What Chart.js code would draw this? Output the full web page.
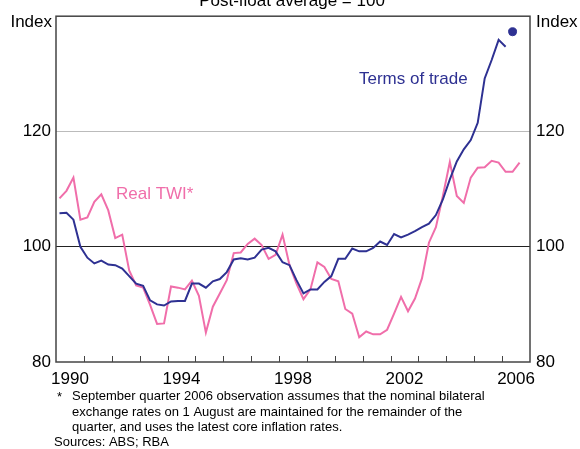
<!DOCTYPE html>
<html>
<head>
<meta charset="utf-8">
<script src="https://cdn.jsdelivr.net/npm/chart.js@4.4.1/dist/chart.umd.min.js"></script>
<style>
body { margin: 0; background: #fff; }
#wrap { width: 580px; height: 449px; position: relative; }
</style>
</head>
<body>
<div id="wrap"><canvas id="chart" width="580" height="449"></canvas></div>
<script>
// quarterly, starting March quarter 1990
const startYear = 1990;
const termsOfTrade = [
  105.8, 105.9, 104.7, 100.0, 98.1, 97.1, 97.6, 96.9,
  96.8, 96.2, 94.9, 93.6, 93.2, 90.7, 90.0, 89.8,
  90.5, 90.6, 90.6, 93.6, 93.6, 92.9, 94.0, 94.4,
  95.6, 97.8, 98.0, 97.8, 98.1, 99.5, 99.8, 99.2,
  97.3, 96.8, 94.2, 91.9, 92.6, 92.6, 93.9, 94.9,
  97.9, 97.9, 99.7, 99.2, 99.2, 99.8, 100.9, 100.3,
  102.2, 101.6, 102.1, 102.7, 103.4, 104.0, 105.5, 108.2,
  111.7, 114.8, 116.9, 118.5, 121.5, 129.2, 132.4, 135.9,
  134.7
];
const termsForecast = 137.3; // June quarter 2006
const realTWI = [
  108.4, 109.7, 112.0, 104.7, 105.1, 107.8, 109.1, 106.3,
  101.5, 102.1, 95.9, 93.3, 92.9, 89.9, 86.6, 86.7,
  93.1, 92.9, 92.6, 94.1, 91.5, 85.1, 89.6, 91.9,
  94.2, 98.9, 99.0, 100.5, 101.4, 100.3, 97.9, 98.6,
  102.1, 96.8, 93.6, 90.9, 92.6, 97.3, 96.5, 94.4,
  94.0, 89.2, 88.4, 84.3, 85.3, 84.8, 84.8, 85.6,
  88.4, 91.3, 88.8, 91.0, 94.5, 100.7, 103.4, 108.8,
  114.7, 108.8, 107.6, 112.0, 113.7, 113.8, 114.9, 114.6,
  113.0, 113.0, 114.6
];
const yTicks = [80, 100, 120];
const yearLabels = [1990, 1994, 1998, 2002, 2006];

const blue = '#2e3192';
const pink = '#f06eaa';
const font = 'Arial, "Liberation Sans", sans-serif';

function quarterX(i) { return startYear + (i + 0.5) / 4; }
const totPoints = termsOfTrade.map((v, i) => ({ x: quarterX(i), y: v }));
const twiPoints = realTWI.map((v, i) => ({ x: quarterX(i), y: v }));

const decorations = {
  id: 'decorations',
  afterDraw(chart) {
    const ctx = chart.ctx;
    const a = chart.chartArea;
    const xs = chart.scales.x;
    ctx.save();
    // year tick marks, pointing into the plot
    ctx.strokeStyle = '#444';
    ctx.lineWidth = 1;
    for (let yr = startYear + 1; yr < 2007; yr++) {
      const px = Math.round(xs.getPixelForValue(yr)) + 0.5;
      ctx.beginPath();
      ctx.moveTo(px, a.bottom);
      ctx.lineTo(px, a.bottom - 6);
      ctx.stroke();
    }
    // frame
    ctx.strokeStyle = '#444';
    ctx.lineWidth = 1.5;
    ctx.strokeRect(a.left, a.top, a.right - a.left, a.bottom - a.top);

    ctx.fillStyle = '#000';
    ctx.font = '17px ' + font;
    ctx.textBaseline = 'alphabetic';
    ctx.textAlign = 'center';
    ctx.fillText('Post-float average = 100', 292, 6);

    ctx.textBaseline = 'middle';
    ctx.textAlign = 'right';
    ctx.fillText('Index', a.left - 4, 22);
    ctx.textAlign = 'left';
    ctx.fillText('Index', a.right + 6, 22);

    ctx.fillStyle = blue;
    ctx.fillText('Terms of trade', 359, 79);
    ctx.fillStyle = pink;
    ctx.fillText('Real TWI*', 116, 194);

    ctx.fillStyle = '#000';
    ctx.font = '13px ' + font;
    ctx.fillText('*', 57, 397);
    ctx.fillText('September quarter 2006 observation assumes that the nominal bilateral', 72, 396);
    ctx.fillText('exchange rates on 1 August are maintained for the remainder of the', 72, 412);
    ctx.fillText('quarter, and uses the latest core inflation rates.', 72, 427);
    ctx.fillText('Sources: ABS; RBA', 54, 442);
    ctx.restore();
  }
};

new Chart(document.getElementById('chart'), {
  type: 'line',
  data: {
    datasets: [
      {
        label: 'Terms of trade',
        data: totPoints,
        borderColor: blue,
        borderWidth: 2,
        pointRadius: 0,
        tension: 0
      },
      {
        label: 'Terms of trade forecast',
        data: [{ x: quarterX(termsOfTrade.length), y: termsForecast }],
        showLine: false,
        pointRadius: 4,
        pointBackgroundColor: blue,
        pointBorderColor: blue
      },
      {
        label: 'Real TWI',
        data: twiPoints,
        borderColor: pink,
        borderWidth: 2,
        pointRadius: 0,
        tension: 0
      }
    ]
  },
  options: {
    responsive: false,
    animation: false,
    layout: { padding: { top: 14 } },
    plugins: { legend: { display: false }, tooltip: { enabled: false } },
    scales: {
      x: {
        type: 'linear',
        min: 1990,
        max: 2007,
        grid: { display: false, drawTicks: false },
        border: { display: false },
        afterBuildTicks: s => { s.ticks = yearLabels.map(y => ({ value: y + 0.5 })); },
        afterFit: s => { s.height = 87; },
        ticks: {
          autoSkip: false,
          maxRotation: 0,
          padding: 7,
          color: '#000',
          font: { family: font, size: 17 },
          callback: v => String(Math.floor(v))
        }
      },
      y: {
        position: 'left',
        min: 80,
        max: 140,
        afterBuildTicks: s => { s.ticks = yTicks.map(v => ({ value: v })); },
        afterFit: s => { s.width = 56; },
        border: { display: false },
        grid: {
          drawTicks: false,
          lineWidth: 1,
          color: c => c.tick && c.tick.value === 100 ? '#222' : (c.tick && c.tick.value === 120 ? '#bbb' : 'rgba(0,0,0,0)')
        },
        ticks: {
          padding: 5,
          color: '#000',
          font: { family: font, size: 17 }
        }
      },
      y2: {
        position: 'right',
        min: 80,
        max: 140,
        afterBuildTicks: s => { s.ticks = yTicks.map(v => ({ value: v })); },
        afterFit: s => { s.width = 50; },
        border: { display: false },
        grid: { display: false, drawTicks: false },
        ticks: {
          padding: 6,
          color: '#000',
          font: { family: font, size: 17 }
        }
      }
    }
  },
  plugins: [decorations]
});
</script>
</body>
</html>
